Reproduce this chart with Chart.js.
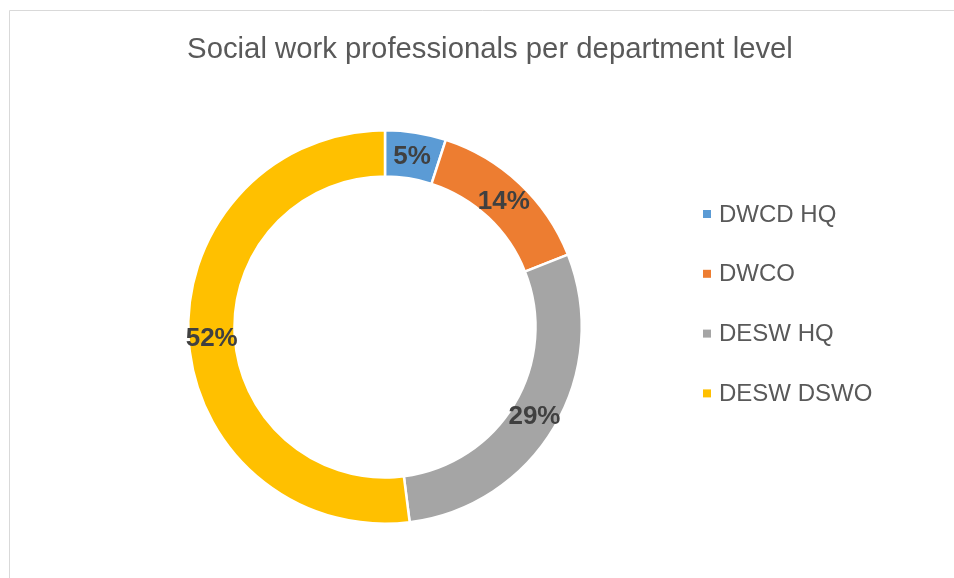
<!DOCTYPE html>
<html>
<head>
<meta charset="utf-8">
<script src="https://cdn.jsdelivr.net/npm/chart.js@4"></script>
<style>
  html, body { margin: 0; padding: 0; background: #ffffff; }
  #wrap { position: relative; width: 954px; height: 578px; }
</style>
</head>
<body>
<div id="wrap"><canvas id="chart" width="954" height="578"></canvas></div>
<script>
// Share of social work professionals by department level (percent)
const chartTitle = 'Social work professionals per department level';
const categories = ['DWCD HQ', 'DWCO', 'DESW HQ', 'DESW DSWO'];
const shares = [5, 14, 29, 52];
const sliceColors = ['#5B9BD5', '#ED7D31', '#A5A5A5', '#FFC000'];

const FONT = '"Liberation Sans", Arial, sans-serif';

// Thin frame around the chart box (runs off the right and bottom edges)
const framePlugin = {
  id: 'frame',
  beforeDraw(chart) {
    const ctx = chart.ctx;
    ctx.save();
    ctx.strokeStyle = '#D9D9D9';
    ctx.lineWidth = 1;
    ctx.beginPath();
    ctx.moveTo(9.5, chart.height + 5);
    ctx.lineTo(9.5, 10.5);
    ctx.lineTo(chart.width + 5, 10.5);
    ctx.stroke();
    ctx.restore();
  }
};

// Title text centred above the ring
const titlePlugin = {
  id: 'topTitle',
  afterDraw(chart) {
    const ctx = chart.ctx;
    ctx.save();
    ctx.font = '29.3px ' + FONT;
    ctx.fillStyle = '#595959';
    ctx.textAlign = 'center';
    ctx.textBaseline = 'alphabetic';
    ctx.fillText(chartTitle, 490, 58);
    ctx.restore();
  }
};

// Percent labels placed at the middle of each ring segment
const sliceLabelPlugin = {
  id: 'sliceLabels',
  afterDatasetsDraw(chart) {
    const ctx = chart.ctx;
    const meta = chart.getDatasetMeta(0);
    const values = chart.data.datasets[0].data;
    ctx.save();
    ctx.font = 'bold 26px ' + FONT;
    ctx.fillStyle = '#404040';
    ctx.textAlign = 'center';
    ctx.textBaseline = 'middle';
    meta.data.forEach((arc, i) => {
      const p = arc.tooltipPosition();
      ctx.fillText(values[i] + '%', p.x, p.y + 1);
    });
    ctx.restore();
  }
};

// Legend on the right: small square marker plus category name
const sideLegendPlugin = {
  id: 'sideLegend',
  afterDraw(chart) {
    const ctx = chart.ctx;
    const ds = chart.data.datasets[0];
    ctx.save();
    ctx.font = '24px ' + FONT;
    ctx.textBaseline = 'middle';
    ctx.textAlign = 'left';
    chart.data.labels.forEach((label, i) => {
      const y = 214 + i * 59.8;
      ctx.fillStyle = ds.backgroundColor[i];
      ctx.fillRect(703, y - 4, 8, 8);
      ctx.fillStyle = '#595959';
      ctx.fillText(label, 719, y + 1);
    });
    ctx.restore();
  }
};

new Chart(document.getElementById('chart'), {
  type: 'doughnut',
  data: {
    labels: categories,
    datasets: [{
      data: shares,
      backgroundColor: sliceColors,
      borderColor: '#FFFFFF',
      borderWidth: 2.5,
      hoverOffset: 0
    }]
  },
  options: {
    responsive: false,
    animation: false,
    cutout: '76.5%',
    rotation: 0,
    layout: {
      padding: { left: 187, right: 371, top: 129, bottom: 53 }
    },
    plugins: {
      legend: { display: false },
      title: { display: false },
      tooltip: { enabled: false }
    }
  },
  plugins: [framePlugin, titlePlugin, sliceLabelPlugin, sideLegendPlugin]
});
</script>
</body>
</html>
